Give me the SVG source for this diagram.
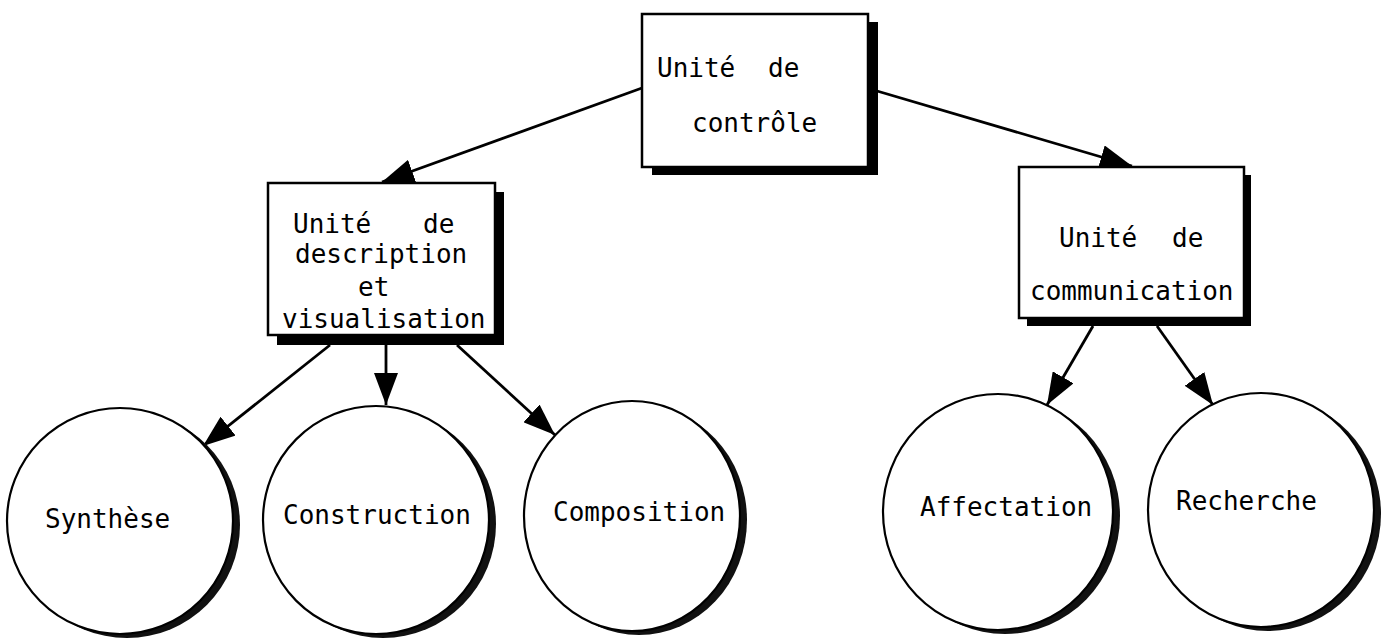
<svg xmlns="http://www.w3.org/2000/svg" width="1398" height="639" viewBox="0 0 1398 639">
  <defs>
    <style>
      .box { fill: #fff; stroke: #000; stroke-width: 2.5; }
      .shadow { fill: #000; stroke: none; }
      .disc { fill: #fff; stroke: #000; stroke-width: 2.2; }
      .disc-shadow { fill: #111; stroke: none; }
      .label { font-family: "DejaVu Sans Mono", "Liberation Mono", monospace; font-size: 26px; fill: #000; }
      .edge { fill: none; stroke: #000; stroke-width: 2.8; }
    </style>
    <marker id="head" markerUnits="userSpaceOnUse" markerWidth="34" markerHeight="24" refX="32" refY="12" orient="auto">
      <path d="M0,0 L32,12 L0,24 Z" fill="#000"/>
    </marker>
  </defs>

  <rect width="1398" height="639" fill="#fff"/>

  <!-- connectors -->
  <g id="connectors">
    <line class="edge" x1="642" y1="88" x2="382" y2="182" marker-end="url(#head)"/>
    <line class="edge" x1="877" y1="91" x2="1132" y2="166" marker-end="url(#head)"/>
    <line class="edge" x1="330" y1="345" x2="203" y2="446" marker-end="url(#head)"/>
    <line class="edge" x1="386" y1="345" x2="386" y2="405" marker-end="url(#head)"/>
    <line class="edge" x1="457" y1="345" x2="555" y2="435" marker-end="url(#head)"/>
    <line class="edge" x1="1093" y1="326" x2="1047" y2="405" marker-end="url(#head)"/>
    <line class="edge" x1="1157" y1="326" x2="1213" y2="405" marker-end="url(#head)"/>
  </g>

  <!-- control unit -->
  <g id="controle">
    <rect class="shadow" x="652" y="22" width="226" height="153"/>
    <rect class="box" x="642" y="14" width="226" height="153"/>
    <text class="label" y="77"><tspan x="657">Unité</tspan><tspan x="768">de</tspan></text>
    <text class="label" x="692" y="132">contrôle</text>
  </g>

  <!-- description / visualisation unit -->
  <g id="description">
    <rect class="shadow" x="277" y="192" width="227" height="153"/>
    <rect class="box" x="268" y="183" width="227" height="152"/>
    <text class="label" y="233"><tspan x="293">Unité</tspan><tspan x="423">de</tspan></text>
    <text class="label" x="295" y="263">description</text>
    <text class="label" x="358" y="296">et</text>
    <text class="label" x="282" y="328">visualisation</text>
  </g>

  <!-- communication unit -->
  <g id="communication">
    <rect class="shadow" x="1027" y="175" width="224" height="151"/>
    <rect class="box" x="1019" y="167" width="225" height="151"/>
    <text class="label" y="247"><tspan x="1059">Unité</tspan><tspan x="1172">de</tspan></text>
    <text class="label" x="1030" y="300">communication</text>
  </g>

  <!-- leaf modules -->
  <g id="synthese">
    <ellipse class="disc-shadow" cx="127" cy="525" rx="113" ry="113"/>
    <ellipse class="disc" cx="120" cy="521" rx="113" ry="113"/>
    <text class="label" x="45" y="528">Synthèse</text>
  </g>

  <g id="construction">
    <ellipse class="disc-shadow" cx="383" cy="524" rx="113" ry="114"/>
    <ellipse class="disc" cx="376" cy="520" rx="113" ry="114"/>
    <text class="label" x="283" y="524">Construction</text>
  </g>

  <g id="composition">
    <ellipse class="disc-shadow" cx="639" cy="520" rx="108" ry="115"/>
    <ellipse class="disc" cx="632" cy="516" rx="108" ry="115"/>
    <text class="label" x="553" y="521">Composition</text>
  </g>

  <g id="affectation">
    <ellipse class="disc-shadow" cx="1005" cy="516" rx="115" ry="118"/>
    <ellipse class="disc" cx="998" cy="512" rx="115" ry="118"/>
    <text class="label" x="920" y="516">Affectation</text>
  </g>

  <g id="recherche">
    <ellipse class="disc-shadow" cx="1268" cy="514" rx="113" ry="117"/>
    <ellipse class="disc" cx="1261" cy="510" rx="113" ry="117"/>
    <text class="label" x="1176" y="510">Recherche</text>
  </g>
</svg>
